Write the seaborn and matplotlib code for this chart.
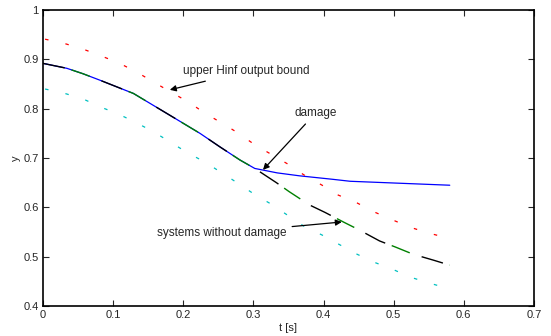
import numpy as np
import pandas as pd
import seaborn as sns
import matplotlib
matplotlib.use("Agg")
import matplotlib.pyplot as plt

# upper / lower Hinf output bounds
t_bound = [0.003, 0.029, 0.057, 0.083, 0.108, 0.134, 0.158, 0.182, 0.207, 0.231, 0.255, 0.278,
           0.301, 0.325, 0.349, 0.372, 0.398, 0.421, 0.448, 0.472, 0.498, 0.523, 0.550, 0.577]
y_upper = [0.941, 0.933, 0.921, 0.907, 0.893, 0.874, 0.854, 0.834, 0.814, 0.791, 0.771, 0.751,
           0.728, 0.708, 0.688, 0.666, 0.645, 0.625, 0.609, 0.591, 0.575, 0.560, 0.548, 0.538]
y_lower = [0.840, 0.832, 0.820, 0.803, 0.789, 0.771, 0.753, 0.732, 0.710, 0.692, 0.670, 0.649,
           0.627, 0.607, 0.584, 0.562, 0.544, 0.526, 0.505, 0.489, 0.475, 0.459, 0.447, 0.436]

# systems without damage
t_nodmg = [0.0, 0.034, 0.057, 0.081, 0.129, 0.176, 0.224, 0.252, 0.281, 0.302, 0.333, 0.351,
           0.380, 0.402, 0.429, 0.450, 0.480, 0.502, 0.528, 0.557, 0.580]
y_nodmg = [0.892, 0.882, 0.871, 0.858, 0.831, 0.791, 0.750, 0.723, 0.696, 0.679, 0.650, 0.632,
           0.605, 0.590, 0.570, 0.555, 0.532, 0.520, 0.505, 0.493, 0.483]

# system with damage
t_dmg = [0.0, 0.034, 0.057, 0.081, 0.129, 0.176, 0.224, 0.252, 0.281, 0.302, 0.334, 0.366,
         0.413, 0.438, 0.509, 0.580]
y_dmg = [0.892, 0.882, 0.871, 0.858, 0.831, 0.791, 0.750, 0.723, 0.696, 0.679, 0.670, 0.664,
         0.657, 0.653, 0.649, 0.645]

sns.set_style("ticks")
plt.rcParams['font.family'] = ['Liberation Sans', 'DejaVu Sans']
plt.rcParams['lines.scale_dashes'] = False

fig = plt.figure(figsize=(5.51, 3.36), dpi=100)
ax = fig.add_axes([0.078, 0.089, 0.891, 0.881])

sns.lineplot(x=t_dmg, y=y_dmg, color='blue', lw=0.9, ax=ax)
sns.lineplot(x=t_nodmg, y=y_nodmg, color='black', lw=1.0, linestyle=(0, (16, 28)), ax=ax)
sns.lineplot(x=t_nodmg, y=y_nodmg, color='green', lw=1.0, linestyle=(23, (14, 30)), ax=ax)
sns.lineplot(x=t_bound, y=y_upper, color='red', lw=0.9, linestyle=(0, (2.5, 12.5)), ax=ax)
sns.lineplot(x=t_bound, y=y_lower, color='#00c0c0', lw=0.9, linestyle=(0, (2.5, 12.5)), ax=ax)

ax.set_xlim(0, 0.7)
ax.set_ylim(0.4, 1.0)
ax.set_xticks(np.arange(0, 0.71, 0.1))
ax.set_yticks(np.arange(0.4, 1.01, 0.1))
ax.set_xticklabels(['0', '0.1', '0.2', '0.3', '0.4', '0.5', '0.6', '0.7'])
ax.set_yticklabels(['0.4', '0.5', '0.6', '0.7', '0.8', '0.9', '1'])
ax.tick_params(direction='in', top=True, right=True, labelsize=8, length=4, width=0.8, pad=3)
for s in ax.spines.values():
    s.set_visible(True)
    s.set_linewidth(1.2)
    s.set_color('black')
ax.set_xlabel('t [s]', fontsize=8, labelpad=2)
ax.set_ylabel('y', fontsize=8, labelpad=2)

arr = dict(arrowstyle='-|>', color='black', lw=0.9, mutation_scale=9)
ax.annotate('upper Hinf output bound', xy=(0.177, 0.837), xytext=(0.1995, 0.876),
            fontsize=8.5, va='center', ha='left', arrowprops=arr)
ax.annotate('damage', xy=(0.311, 0.672), xytext=(0.359, 0.792),
            fontsize=8.5, va='center', ha='left', arrowprops=arr)
ax.annotate('systems without damage', xy=(0.43, 0.571), xytext=(0.162, 0.548),
            fontsize=8.5, va='center', ha='left', arrowprops=arr)

fig.savefig('out.png', dpi=100)
